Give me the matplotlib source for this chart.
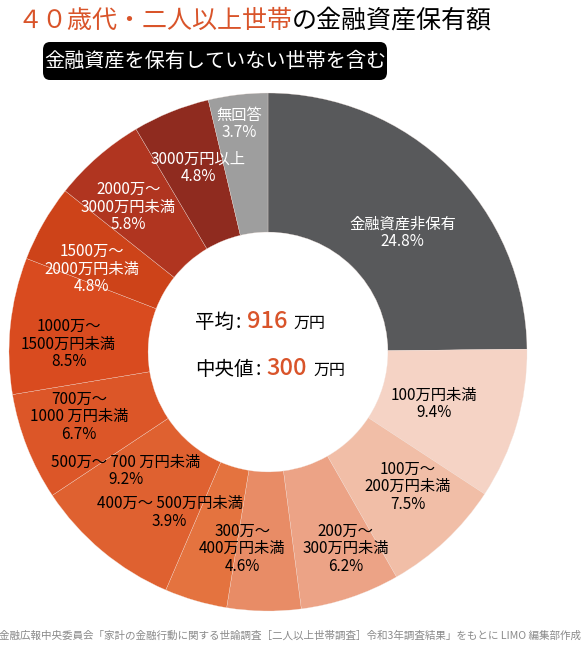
import numpy as np
import matplotlib
matplotlib.use("Agg")
import matplotlib.pyplot as plt
from matplotlib.patches import FancyBboxPatch

plt.rcParams['font.family'] = ['Noto Sans CJK JP', 'DejaVu Sans']

# data
labels = ["金融資産非保有", "100万円未満", "100万～\n200万円未満", "200万～\n300万円未満",
          "300万～\n400万円未満", "400万～ 500万円未満", "500万～ 700 万円未満",
          "700万～\n1000 万円未満", "1000万～\n1500万円未満", "1500万～\n2000万円未満",
          "2000万～\n3000万円未満", "3000万円以上", "無回答"]
shares = [24.8, 9.4, 7.5, 6.2, 4.6, 3.9, 9.2, 6.7, 8.5, 4.8, 5.8, 4.8, 3.7]
colors = ["#58595b", "#f5d3c5", "#f1bea7", "#eca386", "#e88c66", "#e4733f", "#df6130",
          "#dc5628", "#d94b1f", "#cd4319", "#b03520", "#8f2b1f", "#9e9e9e"]
text_colors = ["white", "black", "black", "black", "black", "black", "black",
               "black", "black", "white", "white", "white", "white"]
# label anchor positions (pie data units)
label_pos = [(0.52, 0.46), (0.64, -0.20), (0.54, -0.52), (0.30, -0.76), (-0.10, -0.76),
             (-0.38, -0.62), (-0.55, -0.46), (-0.73, -0.25), (-0.77, 0.03), (-0.68, 0.32),
             (-0.54, 0.56), (-0.27, 0.71), (-0.11, 0.88)]

mean_val = 916
median_val = 300
orange = "#d9542a"

W, H = 581, 646
fig = plt.figure(figsize=(W / 100, H / 100), dpi=100)

cx, cy, R = 268, 352, 259
ax = fig.add_axes([(cx - R) / W, (H - cy - R) / H, 2 * R / W, 2 * R / H])
ax.pie(shares, colors=colors, startangle=90, counterclock=False, radius=1,
       wedgeprops=dict(width=0.537, edgecolor="#f3e3dc", linewidth=0.2))
ax.set_xlim(-1, 1)
ax.set_ylim(-1, 1)
ax.set_aspect("equal")
ax.axis("off")

for lab, s, (lx, ly), tc in zip(labels, shares, label_pos, text_colors):
    ax.text(lx, ly, f"{lab}\n{s}%", ha="center", va="center", fontsize=11,
            color=tc, linespacing=1.05)

fig.canvas.draw()


def row(parts, x, y):
    renderer = fig.canvas.get_renderer()
    xp = x
    for s, fs, c, fw, gap in parts:
        t = fig.text((xp + gap) / W, 1 - y / H, s, fontsize=fs, color=c, fontweight=fw,
                     ha="left", va="baseline")
        bb = t.get_window_extent(renderer)
        xp = xp + gap + bb.width
    return xp


# title
row([("４０歳代・二人以上世帯", 18, orange, "normal", 0),
     ("の金融資産保有額", 18, "black", "normal", 0)], 17, 28)

# subtitle box
fig.patches.append(FancyBboxPatch((43 / W, 1 - 80 / H), 344 / W, 38 / H,
                                  boxstyle="round,pad=0,rounding_size=0.012",
                                  transform=fig.transFigure, facecolor="black",
                                  edgecolor="none"))
fig.text(215 / W, 1 - 61 / H, "金融資産を保有していない世帯を含む", fontsize=14.5,
         color="white", ha="center", va="center")

# centre text
row([("平均", 14, "black", "normal", 0), (":", 14, "black", "normal", 2),
     (f"{mean_val}", 17, orange, "medium", 6), ("万円", 11.5, "black", "normal", 6)], 195, 328)
row([("中央値", 14, "black", "normal", 0), (":", 14, "black", "normal", 2),
     (f"{median_val}", 17, orange, "medium", 6), ("万円", 11.5, "black", "normal", 6)], 195, 375)

fig.text(290 / W, 1 - 636 / H,
         "金融広報中央委員会「家計の金融行動に関する世論調査［二人以上世帯調査］令和3年調査結果」をもとに LIMO 編集部作成",
         fontsize=7.6, color="#8a8a8a", ha="center", va="center")

fig.savefig("out.png", dpi=100, facecolor="white")
